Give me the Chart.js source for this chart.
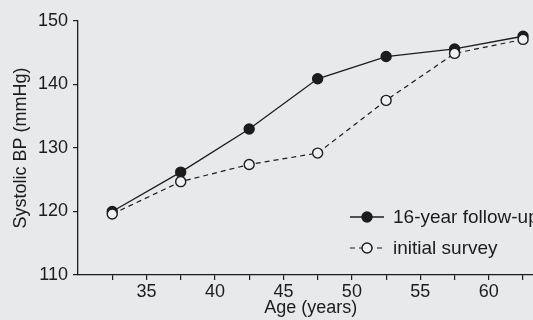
<!DOCTYPE html>
<html>
<head>
<meta charset="utf-8">
<script src="https://cdn.jsdelivr.net/npm/chart.js@4"></script>
<style>
  html, body { margin: 0; padding: 0; background: #e8e9eb; overflow: hidden; }
  #wrap { width: 550px; height: 320px; }
</style>
</head>
<body>
<div id="wrap"><canvas id="bp" width="550" height="320"></canvas></div>
<script>
// Age-group midpoints (years) and mean systolic pressure (mmHg)
const ages = [32.5, 37.5, 42.5, 47.5, 52.5, 57.5, 62.5];
const followUp = [120.0, 126.2, 133.0, 140.9, 144.4, 145.6, 147.6];
const initialSurvey = [119.6, 124.7, 127.4, 129.2, 137.5, 144.9, 147.1];
const seriesNames = ['16-year follow-up', 'initial survey'];
const xTickValues = [32.5, 35, 37.5, 40, 42.5, 45, 47.5, 50, 52.5, 55, 57.5, 60, 62.5];
const yTickValues = [110, 120, 130, 140, 150];

const ink = '#1c1c1c';
const paper = '#eef0f2';
const FONT = '"Liberation Sans", Arial, Helvetica, sans-serif';

const toPoints = vals => vals.map((v, i) => ({ x: ages[i], y: v }));

// Legend drawn inside the plot, lower right
const insetLegend = {
  id: 'insetLegend',
  afterDraw(chart) {
    const ctx = chart.ctx;
    const rows = [217, 248];
    const x0 = 350, x1 = 384, mx = 367, tx = 393;
    chart.data.datasets.forEach((ds, i) => {
      const y = rows[i];
      ctx.save();
      ctx.strokeStyle = ds.borderColor;
      ctx.lineWidth = ds.borderWidth;
      ctx.setLineDash(ds.borderDash || []);
      ctx.beginPath();
      ctx.moveTo(x0, y);
      ctx.lineTo(x1, y);
      ctx.stroke();
      ctx.setLineDash([]);
      ctx.beginPath();
      ctx.arc(mx, y, ds.pointRadius, 0, Math.PI * 2);
      ctx.fillStyle = ds.pointBackgroundColor;
      ctx.fill();
      ctx.lineWidth = ds.pointBorderWidth;
      ctx.strokeStyle = ds.pointBorderColor;
      ctx.stroke();
      ctx.fillStyle = ink;
      ctx.font = '19px ' + FONT;
      ctx.textBaseline = 'middle';
      ctx.textAlign = 'left';
      ctx.fillText(ds.label, tx, y + 1);
      ctx.restore();
    });
  }
};

new Chart(document.getElementById('bp'), {
  type: 'line',
  data: {
    datasets: [
      {
        label: seriesNames[0],
        data: toPoints(followUp),
        borderColor: ink,
        borderWidth: 1.3,
        pointRadius: 5,
        pointBorderWidth: 1.4,
        pointBackgroundColor: ink,
        pointBorderColor: ink,
        tension: 0,
        order: 1
      },
      {
        label: seriesNames[1],
        data: toPoints(initialSurvey),
        borderColor: ink,
        borderWidth: 1.2,
        borderDash: [5, 4],
        pointRadius: 5,
        pointBorderWidth: 1.4,
        pointBackgroundColor: paper,
        pointBorderColor: ink,
        tension: 0,
        order: 0
      }
    ]
  },
  options: {
    responsive: false,
    animation: false,
    layout: { padding: { top: 21, right: 5, bottom: 0, left: 0 } },
    plugins: { legend: { display: false }, tooltip: { enabled: false } },
    scales: {
      x: {
        type: 'linear',
        min: 30,
        max: 64,
        afterBuildTicks: s => { s.ticks = xTickValues.map(v => ({ value: v })); },
        afterFit: s => { s.height = 45; },
        grid: { drawOnChartArea: false, drawTicks: true, tickLength: 5, color: ink, lineWidth: 1.2 },
        border: { display: true, color: ink, width: 1.3 },
        ticks: {
          autoSkip: false,
          maxRotation: 0,
          padding: 1,
          color: ink,
          font: { family: FONT, size: 18 },
          callback: v => (v % 5 === 0 ? String(v) : '')
        },
        title: {
          display: true,
          text: 'Age (years)',
          color: ink,
          font: { family: FONT, size: 18 },
          padding: { top: 0, bottom: 1 }
        }
      },
      y: {
        min: 110,
        max: 150,
        afterBuildTicks: s => { s.ticks = yTickValues.map(v => ({ value: v })); },
        afterFit: s => { s.width = 78; },
        grid: { drawOnChartArea: false, drawTicks: true, tickLength: 5, color: ink, lineWidth: 1.2 },
        border: { display: true, color: ink, width: 1.3 },
        ticks: {
          padding: 5,
          color: ink,
          font: { family: FONT, size: 18 }
        },
        title: {
          display: true,
          text: 'Systolic BP (mmHg)',
          color: ink,
          font: { family: FONT, size: 18 },
          padding: { top: 10, bottom: 0 }
        }
      }
    }
  },
  plugins: [insetLegend]
});
</script>
</body>
</html>
